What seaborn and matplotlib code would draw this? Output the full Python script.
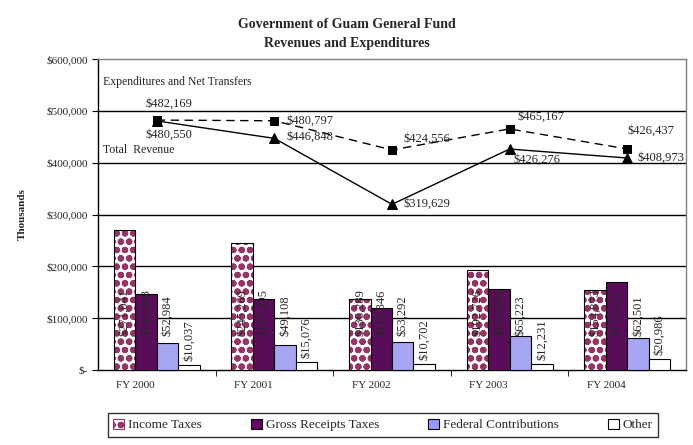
import numpy as np
import pandas as pd
import matplotlib
matplotlib.use("Agg")
import matplotlib.pyplot as plt
import matplotlib.transforms as mtransforms
from matplotlib.patches import Patch, Rectangle
from matplotlib.ticker import FuncFormatter, MultipleLocator
import seaborn as sns

# data (thousands of dollars)
years = ["FY 2000", "FY 2001", "FY 2002", "FY 2003", "FY 2004"]
series = ["Income Taxes", "Gross Receipts Taxes", "Federal Contributions", "Other"]
income_taxes = [271041, 245269, 136289, 192726, 154873]
gross_receipts = [146488, 137395, 119346, 156096, 170611]
federal_contrib = [52984, 49108, 53292, 65223, 62501]
other = [10037, 15076, 10702, 12231, 20986]
expenditures = [482169, 480797, 424556, 465167, 426437]
total_revenue = [480550, 446848, 319629, 426276, 408973]

# label offsets in pixels (dx to left edge, dy to centre)
exp_offsets = [(-11, 16), (12, 0), (11, 11), (8, 12), (0, 18)]
rev_offsets = [(-11, -14), (12, 2), (11, 1), (4, -11), (10, 0)]

bar_colors = ["white", "#660066", "#9999FF", "white"]
hatch_color = "#993366"

sns.set_style("white")
plt.rcParams["font.family"] = ["Liberation Serif", "DejaVu Serif"]
plt.rcParams["hatch.linewidth"] = 2.2

df = pd.DataFrame({
    "year": np.repeat(years, len(series)),
    "series": series * len(years),
    "value": np.ravel(np.column_stack([income_taxes, gross_receipts, federal_contrib, other])),
})

fig = plt.figure(figsize=(6.93, 4.45), dpi=100)
ax = fig.add_axes([98 / 693, 75 / 445, 588 / 693, 311 / 445])

sns.barplot(data=df, x="year", y="value", hue="series", order=years, hue_order=series,
            palette=bar_colors, width=0.73, edgecolor="black", linewidth=0.8,
            legend=False, ax=ax, zorder=3)

# pattern on the income tax bars
n = len(years)
bars = [p for p in ax.patches if isinstance(p, Rectangle)]
for p in bars[:n]:
    p.set_hatch("oo")
    p.set_edgecolor(hatch_color)
    p.set_linewidth(0)
    ax.add_patch(Rectangle(p.get_xy(), p.get_width(), p.get_height(), fill=False,
                           edgecolor="black", linewidth=0.8, zorder=4))

# rotated value labels: big bars get the label at a common height, small ones sit on top
for p in bars:
    h = p.get_height()
    if h >= 40000:
        ax.annotate(f"${h:,.0f}", (p.get_x() + p.get_width() / 2, 66000),
                    xytext=(0, 0), textcoords="offset pixels", rotation=90,
                    ha="center", va="bottom", fontsize=9, zorder=5)
    else:
        ax.annotate(f"${h:,.0f}", (p.get_x() + p.get_width() / 2, h),
                    xytext=(0, 4), textcoords="offset pixels", rotation=90,
                    ha="center", va="bottom", fontsize=9, zorder=5)

xs = np.arange(n)
sns.lineplot(x=xs, y=expenditures, ax=ax, color="black", linewidth=1, marker="s",
             markersize=5.5, markeredgecolor="black", zorder=6)
ax.lines[-1].set_linestyle((0, (6, 4)))
sns.lineplot(x=xs, y=total_revenue, ax=ax, color="black", linewidth=1, marker="^",
             markersize=6.5, markeredgecolor="black", zorder=6)

for i in range(n):
    ax.annotate(f"${expenditures[i]:,.0f}", (xs[i], expenditures[i]), xytext=exp_offsets[i],
                textcoords="offset pixels", ha="left", va="center", fontsize=9, zorder=7)
    ax.annotate(f"${total_revenue[i]:,.0f}", (xs[i], total_revenue[i]), xytext=rev_offsets[i],
                textcoords="offset pixels", ha="left", va="center", fontsize=9, zorder=7)

trans = mtransforms.blended_transform_factory(ax.transAxes, ax.transData)
ax.text(0.009, 556000, "Expenditures and Net Transfers", transform=trans, fontsize=8.5,
        va="center", ha="left")
ax.text(0.009, 425000, "Total  Revenue", transform=trans, fontsize=8.5, va="center", ha="left")

# axes
ax.set_xlim(-0.5, n - 0.5)
ax.set_ylim(0, 600000)
ax.yaxis.set_major_locator(MultipleLocator(100000))
ax.yaxis.set_major_formatter(FuncFormatter(lambda v, _: "$-" if v == 0 else f"${v:,.0f}"))
for v in range(100000, 600000, 100000):
    ax.axhline(v, color="black", linewidth=1, zorder=1)
ax.set_xticks(np.arange(n))
ax.set_xticklabels(years)
ax.set_xticks(np.arange(n - 1) + 0.5, minor=True)
ax.tick_params(axis="x", which="major", length=0, labelsize=8, pad=8)
ax.tick_params(axis="x", which="minor", length=4, direction="out", color="black", bottom=True)
ax.tick_params(axis="y", length=4, direction="out", color="black", labelsize=8, left=True)
shift = mtransforms.ScaledTranslation(-21 / 100, 0, fig.dpi_scale_trans)
for lbl in ax.get_xticklabels():
    lbl.set_transform(lbl.get_transform() + shift)
ax.set_xlabel("")
ax.set_ylabel("Thousands", fontsize=8, fontweight="bold", labelpad=14)
for s in ["left", "bottom"]:
    ax.spines[s].set_color("black")
    ax.spines[s].set_linewidth(1)
for s in ["top", "right"]:
    ax.spines[s].set_color("#808080")
    ax.spines[s].set_linewidth(1)

fig.text(0.5, 1 - 25 / 445, "Government of Guam General Fund", ha="center", va="center",
         fontsize=10, fontweight="bold")
fig.text(0.5, 1 - 44 / 445, "Revenues and Expenditures", ha="center", va="center",
         fontsize=10, fontweight="bold")

handles = [Patch(facecolor=c, edgecolor="black", linewidth=0.8) for c in bar_colors]
handles[0] = Patch(facecolor="white", edgecolor=hatch_color, hatch="oo", linewidth=0.8)
leg = fig.legend(handles, series, loc="center", ncol=4, mode="expand",
                 bbox_to_anchor=(108 / 693, 8 / 445, 550 / 693, 24 / 445),
                 fontsize=9.5, frameon=True, fancybox=False, handlelength=0.8,
                 handleheight=0.8, handletextpad=0.3, borderaxespad=0)
leg.get_frame().set_edgecolor("black")
leg.get_frame().set_linewidth(1)

fig.savefig("out.png", dpi=100)
